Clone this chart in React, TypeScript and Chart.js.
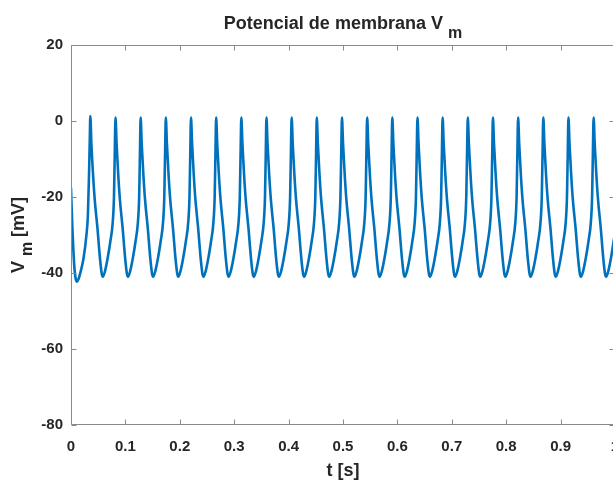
import React, { useEffect, useRef } from "react";
import { Chart, registerables } from "chart.js";

Chart.register(...registerables);

// ---- data: [t (s), Vm (mV)] ----
const transient = [
  [0, -17.7], [0.002, -26], [0.0055, -37], [0.008, -41], [0.011, -42.3], [0.014, -41.5],
  [0.018, -39.5], [0.023, -36.2], [0.028, -30.5], [0.031, -25], [0.033, -15], [0.0345, -5],
];

const spikes = [
  [[0.0355, 1.3], [0.0375, -6], [0.0405, -14], [0.0435, -20.5], [0.0485, -28], [0.0535, -36.5], [0.0565, -40.2], [0.0585, -41], [0.0625, -39.5], [0.0675, -36], [0.0725, -31.5], [0.0765, -27], [0.079, -20], [0.0805, -8]],
  [[0.0818, 0.9], [0.0838, -6], [0.0868, -14], [0.0898, -20.5], [0.0948, -28], [0.0998, -36.5], [0.1028, -40.2], [0.1048, -41], [0.1088, -39.5], [0.1138, -36], [0.1188, -31.5], [0.1228, -27], [0.1253, -20], [0.1268, -8]],
  [[0.128, 0.9], [0.13, -6], [0.133, -14], [0.136, -20.5], [0.141, -28], [0.146, -36.5], [0.149, -40.2], [0.151, -41], [0.155, -39.5], [0.16, -36], [0.165, -31.5], [0.169, -27], [0.1715, -20], [0.173, -8]],
  [[0.1743, 0.9], [0.1763, -6], [0.1793, -14], [0.1823, -20.5], [0.1873, -28], [0.1923, -36.5], [0.1953, -40.2], [0.1973, -41], [0.2013, -39.5], [0.2063, -36], [0.2113, -31.5], [0.2153, -27], [0.2178, -20], [0.2193, -8]],
  [[0.2206, 0.9], [0.2226, -6], [0.2256, -14], [0.2286, -20.5], [0.2336, -28], [0.2386, -36.5], [0.2416, -40.2], [0.2436, -41], [0.2476, -39.5], [0.2526, -36], [0.2576, -31.5], [0.2616, -27], [0.2641, -20], [0.2656, -8]],
  [[0.2668, 0.9], [0.2688, -6], [0.2718, -14], [0.2748, -20.5], [0.2798, -28], [0.2848, -36.5], [0.2878, -40.2], [0.2898, -41], [0.2938, -39.5], [0.2988, -36], [0.3038, -31.5], [0.3078, -27], [0.3103, -20], [0.3118, -8]],
  [[0.3131, 0.9], [0.3151, -6], [0.3181, -14], [0.3211, -20.5], [0.3261, -28], [0.3311, -36.5], [0.3341, -40.2], [0.3361, -41], [0.3401, -39.5], [0.3451, -36], [0.3501, -31.5], [0.3541, -27], [0.3566, -20], [0.3581, -8]],
  [[0.3593, 0.9], [0.3613, -6], [0.3643, -14], [0.3673, -20.5], [0.3723, -28], [0.3773, -36.5], [0.3803, -40.2], [0.3823, -41], [0.3863, -39.5], [0.3913, -36], [0.3963, -31.5], [0.4003, -27], [0.4028, -20], [0.4043, -8]],
  [[0.4056, 0.9], [0.4076, -6], [0.4106, -14], [0.4136, -20.5], [0.4186, -28], [0.4236, -36.5], [0.4266, -40.2], [0.4286, -41], [0.4326, -39.5], [0.4376, -36], [0.4426, -31.5], [0.4466, -27], [0.4491, -20], [0.4506, -8]],
  [[0.4518, 0.9], [0.4538, -6], [0.4568, -14], [0.4598, -20.5], [0.4648, -28], [0.4698, -36.5], [0.4728, -40.2], [0.4748, -41], [0.4788, -39.5], [0.4838, -36], [0.4888, -31.5], [0.4928, -27], [0.4953, -20], [0.4968, -8]],
  [[0.4981, 0.9], [0.5001, -6], [0.5031, -14], [0.5061, -20.5], [0.5111, -28], [0.5161, -36.5], [0.5191, -40.2], [0.5211, -41], [0.5251, -39.5], [0.5301, -36], [0.5351, -31.5], [0.5391, -27], [0.5416, -20], [0.5431, -8]],
  [[0.5444, 0.9], [0.5464, -6], [0.5494, -14], [0.5524, -20.5], [0.5574, -28], [0.5624, -36.5], [0.5654, -40.2], [0.5674, -41], [0.5714, -39.5], [0.5764, -36], [0.5814, -31.5], [0.5854, -27], [0.5879, -20], [0.5894, -8]],
  [[0.5906, 0.9], [0.5926, -6], [0.5956, -14], [0.5986, -20.5], [0.6036, -28], [0.6086, -36.5], [0.6116, -40.2], [0.6136, -41], [0.6176, -39.5], [0.6226, -36], [0.6276, -31.5], [0.6316, -27], [0.6341, -20], [0.6356, -8]],
  [[0.6369, 0.9], [0.6389, -6], [0.6419, -14], [0.6449, -20.5], [0.6499, -28], [0.6549, -36.5], [0.6579, -40.2], [0.6599, -41], [0.6639, -39.5], [0.6689, -36], [0.6739, -31.5], [0.6779, -27], [0.6804, -20], [0.6819, -8]],
  [[0.6831, 0.9], [0.6851, -6], [0.6881, -14], [0.6911, -20.5], [0.6961, -28], [0.7011, -36.5], [0.7041, -40.2], [0.7061, -41], [0.7101, -39.5], [0.7151, -36], [0.7201, -31.5], [0.7241, -27], [0.7266, -20], [0.7281, -8]],
  [[0.7294, 0.9], [0.7314, -6], [0.7344, -14], [0.7374, -20.5], [0.7424, -28], [0.7474, -36.5], [0.7504, -40.2], [0.7524, -41], [0.7564, -39.5], [0.7614, -36], [0.7664, -31.5], [0.7704, -27], [0.7729, -20], [0.7744, -8]],
  [[0.7756, 0.9], [0.7776, -6], [0.7806, -14], [0.7836, -20.5], [0.7886, -28], [0.7936, -36.5], [0.7966, -40.2], [0.7986, -41], [0.8026, -39.5], [0.8076, -36], [0.8126, -31.5], [0.8166, -27], [0.8191, -20], [0.8206, -8]],
  [[0.8219, 0.9], [0.8239, -6], [0.8269, -14], [0.8299, -20.5], [0.8349, -28], [0.8399, -36.5], [0.8429, -40.2], [0.8449, -41], [0.8489, -39.5], [0.8539, -36], [0.8589, -31.5], [0.8629, -27], [0.8654, -20], [0.8669, -8]],
  [[0.8682, 0.9], [0.8702, -6], [0.8732, -14], [0.8762, -20.5], [0.8812, -28], [0.8862, -36.5], [0.8892, -40.2], [0.8912, -41], [0.8952, -39.5], [0.9002, -36], [0.9052, -31.5], [0.9092, -27], [0.9117, -20], [0.9132, -8]],
  [[0.9144, 0.9], [0.9164, -6], [0.9194, -14], [0.9224, -20.5], [0.9274, -28], [0.9324, -36.5], [0.9354, -40.2], [0.9374, -41], [0.9414, -39.5], [0.9464, -36], [0.9514, -31.5], [0.9554, -27], [0.9579, -20], [0.9594, -8]],
  [[0.9607, 0.9], [0.9627, -6], [0.9657, -14], [0.9687, -20.5], [0.9737, -28], [0.9787, -36.5], [0.9817, -40.2], [0.9837, -41], [0.9877, -39.5], [0.9927, -36], [0.9977, -31.5], [1.0, -29.5]],
];

const xTicks = [0, 0.1, 0.2, 0.3, 0.4, 0.5, 0.6, 0.7, 0.8, 0.9, 1];
const xTickLabels = ["0", "0.1", "0.2", "0.3", "0.4", "0.5", "0.6", "0.7", "0.8", "0.9", "1"];
const yTicks = [-80, -60, -40, -20, 0, 20];
const yTickLabels = ["-80", "-60", "-40", "-20", "0", "20"];

const titleMain = "Potencial de membrana V";
const titleSub = "m";
const yLabelMain = "V";
const yLabelSub = "m";
const yLabelRest = " [mV]";
const xLabelText = "t [s]";

const FONT = '"Liberation Sans", Arial, Helvetica, sans-serif';
const TEXT_COLOR = "#262626";
const AXIS_COLOR = "#8a8a8a";
const LINE_COLOR = "#0072BD";

const matlabPlugin = {
  id: "matlabDecor",
  afterDraw(chart: any) {
    const { ctx, chartArea } = chart;
    const xs = chart.scales.x;
    const ys = chart.scales.y;
    const l = Math.round(chartArea.left) + 0.5;
    const r = Math.round(chartArea.right) - 0.5;
    const t = Math.round(chartArea.top) + 0.5;
    const b = Math.round(chartArea.bottom) - 0.5;
    ctx.save();
    ctx.strokeStyle = AXIS_COLOR;
    ctx.lineWidth = 1;
    ctx.beginPath();
    ctx.rect(l, t, r - l, b - t);
    const tl = 5;
    xTicks.forEach((v) => {
      const px = Math.round(xs.getPixelForValue(v)) + 0.5;
      ctx.moveTo(px, b);
      ctx.lineTo(px, b - tl);
      ctx.moveTo(px, t);
      ctx.lineTo(px, t + tl);
    });
    yTicks.forEach((v) => {
      const py = Math.round(ys.getPixelForValue(v)) + 0.5;
      ctx.moveTo(l, py);
      ctx.lineTo(l + tl, py);
      ctx.moveTo(r, py);
      ctx.lineTo(r - tl, py);
    });
    ctx.stroke();

    // title
    const cx = (chartArea.left + chartArea.right) / 2;
    ctx.fillStyle = TEXT_COLOR;
    ctx.textBaseline = "alphabetic";
    ctx.textAlign = "left";
    const mainFont = `bold 18px ${FONT}`;
    const subFont = `bold 16px ${FONT}`;
    ctx.font = mainFont;
    const wMain = ctx.measureText(titleMain + " ").width;
    ctx.font = subFont;
    const wSub = ctx.measureText(titleSub).width;
    const x0 = cx - (wMain + wSub) / 2;
    ctx.font = mainFont;
    ctx.fillText(titleMain + " ", x0, 29);
    ctx.font = subFont;
    ctx.fillText(titleSub, x0 + wMain, 38);

    // x label
    ctx.font = mainFont;
    ctx.textAlign = "center";
    ctx.fillText(xLabelText, cx, 476);

    // y label (rotated)
    const cy = (chartArea.top + chartArea.bottom) / 2;
    ctx.save();
    ctx.translate(24, cy);
    ctx.rotate(-Math.PI / 2);
    ctx.textAlign = "left";
    ctx.font = mainFont;
    const wV = ctx.measureText(yLabelMain + " ").width;
    const wRest = ctx.measureText(yLabelRest).width;
    ctx.font = subFont;
    const wm = ctx.measureText(yLabelSub).width;
    const total = wV + wm + wRest;
    let xx = -total / 2;
    ctx.font = mainFont;
    ctx.fillText(yLabelMain + " ", xx, 0);
    xx += wV;
    ctx.font = subFont;
    ctx.fillText(yLabelSub, xx, 8);
    xx += wm;
    ctx.font = mainFont;
    ctx.fillText(yLabelRest, xx, 0);
    ctx.restore();

    ctx.restore();
  },
};

export default function App() {
  const canvasRef = useRef<HTMLCanvasElement | null>(null);

  useEffect(() => {
    const canvas = canvasRef.current;
    if (!canvas) return;
    const pts = [...transient, ...spikes.flat()];
    const data = pts.map((p) => ({ x: p[0], y: p[1] }));
    const chart = new Chart(canvas, {
      type: "line",
      data: {
        datasets: [
          {
            data,
            borderColor: LINE_COLOR,
            borderWidth: 2.6,
            pointRadius: 0,
            cubicInterpolationMode: "monotone",
            fill: false,
            borderJoinStyle: "round",
            borderCapStyle: "round",
          },
        ],
      },
      options: {
        animation: false,
        responsive: false,
        devicePixelRatio: 1,
        parsing: false,
        normalized: true,
        layout: { padding: { left: 0, top: 45, right: 25, bottom: 0 } },
        plugins: {
          legend: { display: false },
          title: { display: false },
          tooltip: { enabled: false },
        },
        scales: {
          x: {
            type: "linear",
            min: 0,
            max: 1,
            grid: { display: false, drawTicks: false },
            border: { display: false },
            afterBuildTicks: (s: any) => {
              s.ticks = xTicks.map((v) => ({ value: v }));
            },
            afterFit: (s: any) => {
              s.height = 56;
            },
            ticks: {
              autoSkip: false,
              maxRotation: 0,
              padding: 13,
              color: TEXT_COLOR,
              font: { family: FONT, size: 15, weight: "bold" },
              callback: (v: any) => {
                const i = xTicks.indexOf(Number(v));
                return i >= 0 ? xTickLabels[i] : "";
              },
            },
          },
          y: {
            type: "linear",
            min: -80,
            max: 20,
            grid: { display: false, drawTicks: false },
            border: { display: false },
            afterBuildTicks: (s: any) => {
              s.ticks = yTicks.map((v) => ({ value: v }));
            },
            afterFit: (s: any) => {
              s.width = 71;
            },
            ticks: {
              autoSkip: false,
              padding: 8,
              color: TEXT_COLOR,
              font: { family: FONT, size: 15, weight: "bold" },
              callback: (v: any) => {
                const i = yTicks.indexOf(Number(v));
                return i >= 0 ? yTickLabels[i] : "";
              },
            },
          },
        },
      },
      plugins: [matlabPlugin],
    });
    return () => chart.destroy();
  }, []);

  return (
    <div
      style={{
        position: "fixed",
        left: 0,
        top: 0,
        width: 613,
        height: 481,
        overflow: "hidden",
        background: "#ffffff",
      }}
    >
      <canvas ref={canvasRef} width={640} height={481} style={{ display: "block" }} />
    </div>
  );
}
